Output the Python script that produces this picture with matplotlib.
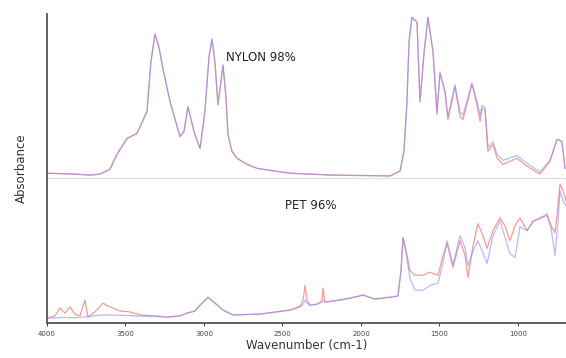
import numpy as np
import matplotlib.pyplot as plt

# nylon spectrum (offset upwards), arbitrary absorbance units
nylon_wn = [3994, 3822, 3726, 3662, 3599, 3554, 3490, 3427, 3363, 3338, 3312, 3287, 3261, 3216,
            3153, 3127, 3102, 3064, 3025, 2994, 2968, 2949, 2930, 2911, 2892, 2879, 2860, 2847,
            2822, 2790, 2726, 2662, 2548, 2452, 2197, 1815, 1751, 1726, 1707, 1694, 1675, 1643,
            1624, 1598, 1573, 1541, 1516, 1497, 1465, 1446, 1401, 1369, 1350, 1293, 1261, 1241,
            1229, 1210, 1191, 1159, 1133, 1095, 1051, 1006, 942, 860, 796, 751, 720, 700]
nylon_a = [0.490, 0.487, 0.484, 0.487, 0.503, 0.552, 0.604, 0.620, 0.692, 0.854, 0.945, 0.903,
           0.831, 0.724, 0.610, 0.627, 0.708, 0.627, 0.571, 0.692, 0.870, 0.929, 0.854, 0.714,
           0.789, 0.844, 0.740, 0.617, 0.562, 0.539, 0.519, 0.506, 0.497, 0.490, 0.484, 0.481,
           0.497, 0.562, 0.724, 0.919, 1.000, 0.984, 0.724, 0.886, 1.000, 0.886, 0.682, 0.815,
           0.756, 0.666, 0.773, 0.675, 0.666, 0.782, 0.714, 0.659, 0.701, 0.698, 0.562, 0.584,
           0.539, 0.519, 0.529, 0.539, 0.513, 0.487, 0.529, 0.601, 0.594, 0.506]
nylon_b = [0.490, 0.487, 0.484, 0.487, 0.503, 0.552, 0.604, 0.620, 0.692, 0.854, 0.945, 0.903,
           0.831, 0.724, 0.610, 0.627, 0.708, 0.627, 0.571, 0.692, 0.870, 0.929, 0.854, 0.714,
           0.789, 0.844, 0.740, 0.617, 0.562, 0.539, 0.519, 0.506, 0.497, 0.490, 0.484, 0.481,
           0.497, 0.562, 0.724, 0.919, 1.000, 0.984, 0.724, 0.886, 1.000, 0.886, 0.690, 0.822,
           0.760, 0.675, 0.780, 0.690, 0.680, 0.785, 0.725, 0.680, 0.712, 0.705, 0.575, 0.592,
           0.552, 0.532, 0.540, 0.548, 0.522, 0.494, 0.532, 0.601, 0.594, 0.506]

# PET spectrum
pet_wn = [3994, 3949, 3917, 3885, 3853, 3822, 3790, 3758, 3739, 3694, 3643, 3612, 3580, 3535,
          3471, 3408, 3312, 3236, 3153, 3108, 3057, 3025, 2974, 2930, 2879, 2815, 2643, 2452,
          2388, 2369, 2356, 2344, 2325, 2274, 2248, 2242, 2229, 2134, 2070, 1987, 1911, 1815,
          1764, 1745, 1732, 1713, 1688, 1656, 1605, 1560, 1509, 1477, 1452, 1414, 1369, 1337,
          1318, 1286, 1255, 1223, 1197, 1159, 1114, 1083, 1051, 1019, 987, 942, 904, 860, 815,
          789, 764, 745, 732, 713, 694]
pet_red = [0.016, 0.023, 0.049, 0.032, 0.052, 0.029, 0.023, 0.075, 0.019, 0.036, 0.065, 0.055,
           0.049, 0.039, 0.036, 0.026, 0.023, 0.019, 0.023, 0.032, 0.039, 0.058, 0.084, 0.065,
           0.042, 0.026, 0.029, 0.042, 0.055, 0.075, 0.123, 0.075, 0.058, 0.062, 0.075, 0.114,
           0.068, 0.075, 0.081, 0.091, 0.078, 0.084, 0.088, 0.172, 0.279, 0.237, 0.172, 0.156,
           0.156, 0.166, 0.156, 0.221, 0.260, 0.182, 0.269, 0.221, 0.149, 0.253, 0.325, 0.286,
           0.244, 0.302, 0.344, 0.318, 0.269, 0.318, 0.344, 0.302, 0.334, 0.341, 0.357, 0.318,
           0.295, 0.383, 0.455, 0.432, 0.399]
pet_blue = [0.016, 0.016, 0.018, 0.018, 0.017, 0.017, 0.018, 0.020, 0.020, 0.024, 0.026, 0.026,
            0.026, 0.025, 0.024, 0.022, 0.021, 0.019, 0.023, 0.032, 0.039, 0.058, 0.084, 0.065,
            0.042, 0.026, 0.029, 0.042, 0.052, 0.060, 0.075, 0.065, 0.058, 0.062, 0.068, 0.075,
            0.068, 0.075, 0.081, 0.091, 0.078, 0.084, 0.088, 0.172, 0.279, 0.230, 0.146, 0.107,
            0.107, 0.123, 0.130, 0.198, 0.269, 0.190, 0.286, 0.245, 0.188, 0.235, 0.269, 0.230,
            0.195, 0.285, 0.334, 0.280, 0.227, 0.214, 0.315, 0.302, 0.330, 0.345, 0.350, 0.310,
            0.221, 0.330, 0.432, 0.400, 0.383]

fig = plt.figure(figsize=(5.66, 3.58), dpi=100)
ax = fig.add_axes([0.083, 0.098, 0.917, 0.862])

red = '#f08a8a'
blue = '#8a8cf0'
ax.axhline(0.474, color='#dddddd', linewidth=0.8)
ax.plot(nylon_wn, nylon_a, color=red, linewidth=0.9, alpha=0.85)
ax.plot(nylon_wn, nylon_b, color=blue, linewidth=0.9, alpha=0.6)
ax.plot(pet_wn, pet_red, color=red, linewidth=0.9, alpha=0.85)
ax.plot(pet_wn, pet_blue, color=blue, linewidth=0.9, alpha=0.6)

ax.text(2640, 0.87, "NYLON 98%", fontsize=8.5, ha='center', va='center', color='#222222')
ax.text(2320, 0.385, "PET 96%", fontsize=8.5, ha='center', va='center', color='#222222')

ax.set_xlim(4000, 694)
ax.set_ylim(0, 1.01)
ax.set_xticks(np.arange(4000, 999, -500))
ax.tick_params(axis='x', labelsize=5, colors='#444444', length=2, pad=4)
ax.set_yticks([])
ax.spines['top'].set_visible(False)
ax.spines['right'].set_visible(False)
ax.spines['left'].set_color('#555555')
ax.spines['bottom'].set_color('#555555')
ax.spines['left'].set_linewidth(1.3)
ax.spines['bottom'].set_linewidth(1.3)
ax.set_xlabel("Wavenumber (cm-1)", fontsize=8.5, color='#333333', labelpad=1)
ax.set_ylabel("Absorbance", fontsize=8.5, color='#333333', labelpad=14)

plt.savefig("out.png", dpi=100)
